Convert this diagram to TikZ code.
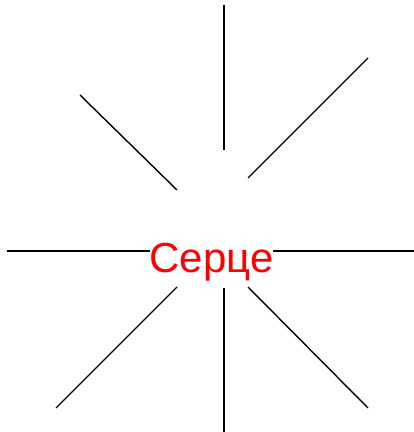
\documentclass[tikz,border=0pt]{standalone}
\usepackage{fontspec}
\newfontfamily\labelfont{Liberation Sans}
\begin{document}
\begin{tikzpicture}[x=1bp,y=1bp,
  ray/.style={line width=1.4bp, black},
  lbl/.style={font=\labelfont\fontsize{42bp}{50bp}\selectfont, text=red, fill=white, inner sep=0pt, anchor=base}]
\useasboundingbox (0,0) rectangle (414,432);
\coordinate (t1) at (224,427); \coordinate (t2) at (224,282);
\coordinate (b1) at (224,144); \coordinate (b2) at (224,0);
\coordinate (h1) at (7,181);   \coordinate (h2) at (414,181);
\coordinate (ul1) at (80,337); \coordinate (ul2) at (177,242);
\coordinate (ur1) at (248,254); \coordinate (ur2) at (368,374);
\coordinate (ll1) at (56,24);  \coordinate (ll2) at (177,145);
\coordinate (lr1) at (248,145); \coordinate (lr2) at (368,24);
\draw[ray] (t1) -- (t2);
\draw[ray] (b1) -- (b2);
\draw[ray] (h1) -- (h2);
\draw[ray] (ul1) -- (ul2);
\draw[ray] (ur1) -- (ur2);
\draw[ray] (ll1) -- (ll2);
\draw[ray] (lr1) -- (lr2);
\node[lbl] (txt) at (211.5,160) {Серце};
\end{tikzpicture}
\end{document}
